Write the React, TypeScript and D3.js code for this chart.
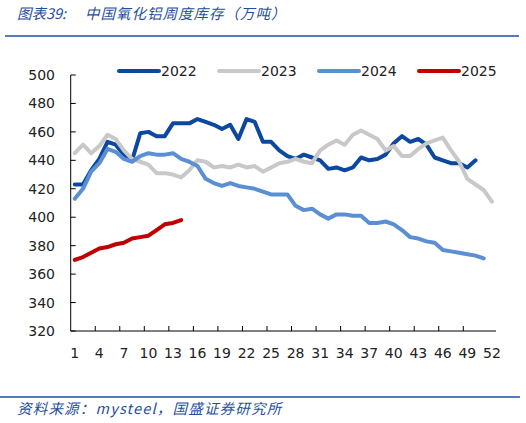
import React from 'react';
import * as d3 from 'd3';

// weekly alumina inventory in China, 10k tonnes
const weeks = d3.range(1, 53);
const tickWeeks = d3.range(1, 53, 3);
const yTicks = d3.range(320, 501, 20);

const s2022 = [
  423, 423, 433, 441, 453, 451, 444, 440, 459, 460, 457, 457, 466, 466, 466, 469,
  467, 465, 462, 465, 455, 469, 467, 453, 453, 447, 443, 441, 444, 442, 440, 434,
  435, 433, 435, 442, 440, 441, 444, 452, 457, 453, 455, 451, 442, 440, 438, 438,
  435, 440,
];
const s2023 = [
  445, 451, 445, 450, 458, 455, 447, 441, 439, 437, 431, 431, 430, 428, 433, 440,
  439, 435, 436, 435, 437, 435, 436, 432, 435, 438, 439, 441, 439, 438, 447, 451,
  454, 451, 458, 461, 458, 455, 447, 450, 443, 443, 448, 452, 454, 456, 447, 439,
  427, 423, 419, 411,
];
const s2024 = [
  413, 420, 432, 438, 448, 446, 441, 439, 443, 445, 444, 444, 445, 441, 439, 436,
  427, 424, 422, 424, 422, 421, 420, 418, 416, 416, 416, 408, 405, 406, 402, 399,
  402, 402, 401, 401, 396, 396, 397, 395, 391, 386, 385, 383, 382, 377, 376, 375,
  374, 373, 371,
];
const s2025 = [370, 372, 375, 378, 379, 381, 382, 385, 386, 387, 391, 395, 396, 398];

const seriesNames = ['2022', '2023', '2024', '2025'];
const seriesValues = [s2022, s2023, s2024, s2025];
const seriesColors = ['#0b48a0', '#c8c8c8', '#5b8fd3', '#c00000'];

const W = 526;
const H = 423;
const left = 70.7;
const right = 496;
const top = 75;
const bottom = 331;
const numFont = '"DejaVu Sans", sans-serif';
const cjkFont = '"Noto Sans CJK SC", sans-serif';
const blue = '#1f4f9e';

export default function App() {
  const x = d3.scaleBand<number>().domain(weeks).range([left, right]).padding(0);
  const cx = (w: number) => (x(w) as number) + x.bandwidth() / 2;
  const y = d3.scaleLinear().domain([320, 500]).range([bottom, top]);

  const line = d3
    .line<number>()
    .x((_, i) => cx(i + 1))
    .y((d) => y(d));

  // Excel style ticks: between categories, every third one
  const xTickPos = d3.range(3, 49, 3).map((k) => left + k * x.bandwidth());

  const legendX = [119, 219, 319, 419];

  return (
    <svg
      width={W}
      height={H}
      style={{ position: 'absolute', left: 0, top: 0, background: '#fff' }}
    >
      <text x={17} y={19} fontFamily={cjkFont} fontSize={14.5} fontStyle="italic" fill={blue}>
        图表39:
      </text>
      <text
        x={85}
        y={19}
        fontFamily={cjkFont}
        fontSize={14.5}
        fontStyle="italic"
        letterSpacing={1}
        fill={blue}
      >
        中国氧化铝周度库存（万吨）
      </text>
      <line x1={5} x2={519} y1={36} y2={36} stroke={blue} strokeWidth={1.5} />

      {/* legend */}
      {seriesNames.map((name, i) => (
        <g key={name}>
          <line
            x1={legendX[i]}
            x2={legendX[i] + 40}
            y1={71}
            y2={71}
            stroke={seriesColors[i]}
            strokeWidth={4}
            strokeLinecap="round"
          />
          <text x={legendX[i] + 42} y={76} fontFamily={numFont} fontSize={14} fill="#222">
            {name}
          </text>
        </g>
      ))}

      {/* y axis */}
      <line x1={left} x2={left} y1={top} y2={bottom} stroke="#000" strokeWidth={1} />
      {yTicks.map((t) => (
        <g key={t}>
          <line x1={left} x2={left + 5} y1={y(t)} y2={y(t)} stroke="#000" />
          <text
            x={55}
            y={y(t) + 5}
            textAnchor="end"
            fontFamily={numFont}
            fontSize={14}
            fill="#222"
          >
            {t}
          </text>
        </g>
      ))}

      {/* x axis */}
      <line x1={left} x2={right} y1={bottom} y2={bottom} stroke="#000" strokeWidth={1} />
      {xTickPos.map((p) => (
        <line key={p} x1={p} x2={p} y1={bottom} y2={bottom - 5} stroke="#000" />
      ))}
      {tickWeeks.map((w) => (
        <text
          key={w}
          x={cx(w)}
          y={358}
          textAnchor="middle"
          fontFamily={numFont}
          fontSize={14}
          fill="#222"
        >
          {w}
        </text>
      ))}

      {/* series */}
      {seriesValues.map((vals, i) => (
        <path
          key={seriesNames[i]}
          d={line(vals) || ''}
          fill="none"
          stroke={seriesColors[i]}
          strokeWidth={4}
          strokeLinejoin="round"
          strokeLinecap="round"
        />
      ))}

      <line x1={0} x2={520} y1={397} y2={397} stroke={blue} strokeWidth={1.5} />
      <text
        x={17}
        y={414}
        fontFamily={cjkFont}
        fontSize={14.5}
        fontStyle="italic"
        letterSpacing={1.2}
        fill={blue}
      >
        资料来源：mysteel，国盛证券研究所
      </text>
    </svg>
  );
}
